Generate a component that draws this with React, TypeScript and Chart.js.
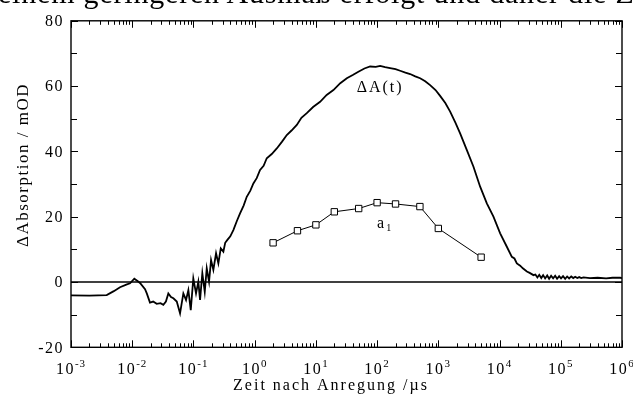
import React, { useEffect, useRef } from 'react';
import { Chart, registerables } from 'chart.js';

Chart.register(...registerables);

const headerText = 'einem geringeren Ausmaß erfolgt und daher die Z';
const xTitle = 'Zeit nach Anregung /µs';
const yTitle = 'ΔAbsorption / mOD';
const seriesALabel = 'ΔA(t)';
const seriesBLabel = 'a';
const seriesBSub = '1';

const xTickBase = '10';
const xTickExponents = ['-3', '-2', '-1', '0', '1', '2', '3', '4', '5', '6'];
const yTickValues = [-20, 0, 20, 40, 60, 80];
const yTickLabels = ['-20', '0', '20', '40', '60', '80'];

const deltaATimes = [
  0.001, 0.002, 0.00383, 0.005, 0.00632, 0.008, 0.00921, 0.01082, 0.0122, 0.0134,
  0.0162, 0.0173, 0.0195, 0.022, 0.0251, 0.029, 0.0322, 0.0355, 0.0389, 0.043,
  0.047, 0.0534, 0.0604, 0.0684, 0.0757, 0.0826, 0.0904, 0.0995, 0.1102, 0.1202,
  0.1282, 0.1397, 0.153, 0.1649, 0.1798, 0.194, 0.2115, 0.234, 0.2553, 0.2793,
  0.3081, 0.33, 0.3583, 0.4, 0.4487, 0.51, 0.577, 0.66, 0.7424, 0.85,
  0.953, 1.08, 1.225, 1.4, 1.576, 1.9, 2.297, 2.8, 3.347, 4.0,
  4.878, 5.8, 7.102, 9.0, 11.72, 15.0, 19.33, 25.0, 31.99, 40.0,
  49.44, 62.0, 76.9, 95, 112, 135, 163, 200, 237.6, 290,
  346, 420, 504, 610, 734, 900, 1069, 1300, 1560, 1900,
  2270, 2924, 3750, 4819, 6197, 7947, 10230, 13150, 15880, 17500,
  19170, 21720, 24000, 27930, 31000, 35810, 38500, 41500, 44500, 48000,
  51500, 55500, 60000, 64500, 69500, 75000, 81000, 87000, 94000, 101000,
  109000, 118000, 127000, 137000, 148000, 160000, 172000, 186000, 200000, 216000,
  235000, 300000, 400000, 550000, 700000, 935000, 1000000,
];
const deltaAValues = [
  -4.1, -4.2, -4.0, -2.8, -1.6, -0.8, -0.4, 1.0, 0.3, -0.3,
  -2.2, -3.5, -6.3, -6.0, -6.7, -6.5, -7.0, -6.0, -3.5, -4.6,
  -5.0, -6.0, -9.6, -3.5, -5.5, -2.5, -8.6, 1.1, -3.5, 0.1,
  -5.5, 2.7, -3.0, 4.2, 0.1, 6.7, 3.7, 8.8, 5.7, 10.3,
  9.3, 12.0, 12.9, 14.0, 15.9, 18.6, 21.0, 23.4, 26.1, 28.0,
  30.2, 31.8, 34.3, 35.6, 37.9, 39.2, 40.9, 43.0, 45.0, 46.4,
  48.1, 50.3, 51.7, 53.6, 55.2, 57.3, 58.8, 60.9, 62.4, 63.4,
  64.4, 65.4, 66.0, 65.9, 66.2, 65.8, 65.5, 65.2, 64.7, 64.1,
  63.7, 63.0, 62.4, 61.5, 60.3, 58.8, 57.0, 54.8, 52.2, 48.8,
  45.5, 40.4, 35.3, 29.2, 24.1, 20.0, 14.9, 10.8, 7.7, 7.2,
  5.7, 5.0, 4.2, 3.2, 2.8, 2.1, 2.3, 1.4, 2.2, 1.2,
  2.1, 1.1, 2.0, 1.0, 1.9, 1.1, 1.9, 1.0, 1.8, 1.1,
  1.8, 1.0, 1.7, 1.1, 1.7, 1.2, 1.6, 1.2, 1.5, 1.2,
  1.4, 1.2, 1.3, 1.1, 1.3, 1.3, 1.2,
];

const a1Times = [2, 5, 10, 20, 50, 100, 200, 500, 1000, 5000];
const a1Values = [12.0, 15.7, 17.5, 21.5, 22.5, 24.3, 23.9, 23.1, 16.4, 7.6];

const baselineTimes = [0.001, 1000000];
const baselineValues = [0, 0];

const labelAPos = { t: 112, v: 59.4 };
const labelBPos = { t: 100, v: 16.4 };

const FONT = '"Liberation Serif", "Times New Roman", serif';

function textWidth(ctx: CanvasRenderingContext2D, s: string) {
  return ctx.measureText(s).width;
}

const framePlugin = {
  id: 'framePlugin',
  afterDraw(chart: any) {
    const { ctx, chartArea: a, scales } = chart;
    const x = scales.x;
    const y = scales.y;
    ctx.save();
    ctx.strokeStyle = '#000';
    ctx.fillStyle = '#000';
    // frame
    ctx.lineWidth = 1.4;
    ctx.strokeRect(a.left, a.top, a.right - a.left, a.bottom - a.top);
    // x ticks (inward, bottom and top)
    ctx.lineWidth = 1;
    ctx.beginPath();
    for (let e = -3; e <= 6; e++) {
      for (let m = 1; m <= 9; m++) {
        const v = m * Math.pow(10, e);
        if (v > 1000000 * 1.0001) break;
        const px = Math.round(x.getPixelForValue(v)) + 0.5;
        const len = m === 1 ? 7 : 4;
        ctx.moveTo(px, a.bottom);
        ctx.lineTo(px, a.bottom - len);
        ctx.moveTo(px, a.top);
        ctx.lineTo(px, a.top + len);
      }
    }
    // y ticks (inward, left and right)
    for (let v = -20; v <= 80; v += 10) {
      const py = Math.round(y.getPixelForValue(v)) + 0.5;
      const len = v % 20 === 0 ? 7 : 6;
      ctx.moveTo(a.left, py);
      ctx.lineTo(a.left + len, py);
      ctx.moveTo(a.right, py);
      ctx.lineTo(a.right - len, py);
    }
    ctx.stroke();

    // y tick labels
    (ctx as any).letterSpacing = '1.5px';
    ctx.font = `16px ${FONT}`;
    ctx.textAlign = 'right';
    ctx.textBaseline = 'middle';
    yTickValues.forEach((v, i) => {
      ctx.fillText(yTickLabels[i], a.left - 7, y.getPixelForValue(v) + 1);
    });

    // x tick labels: 10 with superscript exponent
    ctx.textAlign = 'left';
    ctx.textBaseline = 'alphabetic';
    xTickExponents.forEach((ex) => {
      const v = Math.pow(10, parseInt(ex, 10));
      const px = x.getPixelForValue(v);
      (ctx as any).letterSpacing = '1.5px';
      ctx.font = `16px ${FONT}`;
      const w1 = textWidth(ctx, xTickBase);
      (ctx as any).letterSpacing = '1px';
      ctx.font = `11px ${FONT}`;
      const w2 = textWidth(ctx, ex);
      const start = px - (w1 + w2) / 2;
      (ctx as any).letterSpacing = '1.5px';
      ctx.font = `16px ${FONT}`;
      ctx.fillText(xTickBase, start, a.bottom + 27);
      (ctx as any).letterSpacing = '1px';
      ctx.font = `11px ${FONT}`;
      ctx.fillText(ex, start + w1, a.bottom + 20);
    });

    // x title
    (ctx as any).letterSpacing = '2px';
    ctx.font = `16px ${FONT}`;
    ctx.textAlign = 'center';
    ctx.fillText(xTitle, 331, 390);

    // y title
    ctx.save();
    (ctx as any).letterSpacing = '1.5px';
    ctx.translate(28, 165);
    ctx.rotate(-Math.PI / 2);
    ctx.textAlign = 'center';
    ctx.textBaseline = 'alphabetic';
    ctx.font = `17px ${FONT}`;
    ctx.fillText(yTitle, 0, 0);
    ctx.restore();

    // series labels
    (ctx as any).letterSpacing = '2px';
    ctx.font = `16px ${FONT}`;
    ctx.textAlign = 'center';
    ctx.textBaseline = 'middle';
    ctx.fillText(seriesALabel, x.getPixelForValue(labelAPos.t), y.getPixelForValue(labelAPos.v));
    ctx.textAlign = 'left';
    ctx.textBaseline = 'alphabetic';
    const bx = x.getPixelForValue(labelBPos.t);
    const by = y.getPixelForValue(labelBPos.v);
    ctx.fillText(seriesBLabel, bx, by);
    const bw = textWidth(ctx, seriesBLabel);
    ctx.font = `10px ${FONT}`;
    ctx.fillText(seriesBSub, bx + bw, by + 3);
    ctx.restore();
  },
};

export default function App() {
  const canvasRef = useRef<HTMLCanvasElement | null>(null);

  useEffect(() => {
    const canvas = canvasRef.current;
    if (!canvas) return;
    const chart = new Chart(canvas, {
      type: 'line',
      data: {
        datasets: [
          {
            label: 'baseline',
            data: baselineTimes.map((t, i) => ({ x: t, y: baselineValues[i] })),
            borderColor: '#000',
            borderWidth: 1.4,
            pointRadius: 0,
            order: 3,
          },
          {
            label: seriesALabel,
            data: deltaATimes.map((t, i) => ({ x: t, y: deltaAValues[i] })),
            borderColor: '#000',
            borderWidth: 1.8,
            pointRadius: 0,
            tension: 0,
            order: 2,
          },
          {
            label: 'a1',
            data: a1Times.map((t, i) => ({ x: t, y: a1Values[i] })),
            borderColor: '#000',
            borderWidth: 1,
            pointStyle: 'rect',
            pointRadius: 4.5,
            pointBackgroundColor: '#fff',
            pointBorderColor: '#000',
            pointBorderWidth: 1,
            tension: 0,
            order: 1,
          },
        ],
      },
      options: {
        responsive: false,
        animation: false,
        events: [],
        layout: { padding: { left: 71, right: 11, top: 20.8, bottom: 46.7 } },
        plugins: {
          legend: { display: false },
          tooltip: { enabled: false },
          title: { display: false },
        },
        scales: {
          x: { type: 'logarithmic', min: 0.001, max: 1000000, display: false },
          y: { type: 'linear', min: -20, max: 80, display: false },
        },
      },
      plugins: [framePlugin],
    });
    return () => chart.destroy();
  }, []);

  return (
    <div
      style={{
        position: 'fixed',
        left: 0,
        top: 0,
        width: 633,
        height: 394,
        background: '#fff',
        overflow: 'hidden',
      }}
    >
      <canvas ref={canvasRef} width={633} height={394} style={{ position: 'absolute', left: 0, top: 0 }} />
      <div
        style={{
          position: 'absolute',
          left: -2,
          top: -22,
          fontFamily: FONT,
          fontSize: 30,
          lineHeight: '30px',
          whiteSpace: 'nowrap',
          color: '#000',
          letterSpacing: '0.8px',
        }}
      >
        {headerText}
      </div>
    </div>
  );
}
